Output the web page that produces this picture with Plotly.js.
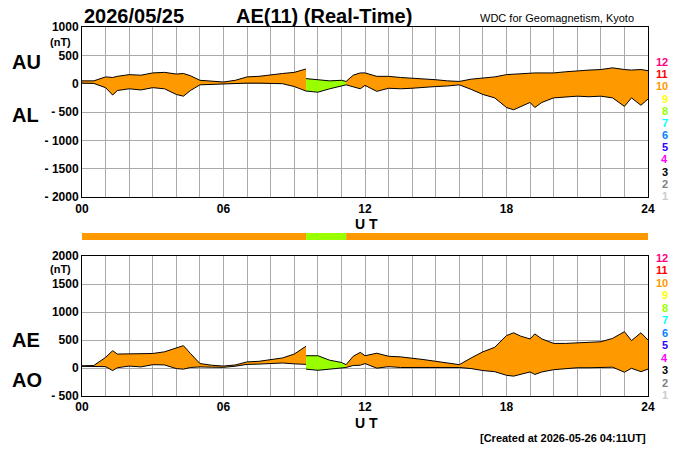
<!DOCTYPE html>
<html><head><meta charset="utf-8">
<script src="https://cdn.plot.ly/plotly-3.0.1.min.js"></script>
<style>body{margin:0;background:#fff}</style>
</head><body>
<div id="ae" style="width:700px;height:450px"></div>
<script>
// samples (UT hours, nT)
var hours = [0,0.5,1,1.3,1.5,2,2.5,3,3.5,4,4.3,4.6,5,5.5,6,6.5,7,7.5,8,8.5,9,9.5,
  9.51,10,10.5,11,11.2,11.5,11.8,12,12.5,13,13.5,14,14.5,15,15.5,16,16.5,17,17.5,
  18,18.3,18.6,19,19.2,19.5,20,20.5,21,21.5,22,22.5,23,23.3,23.7,24];
var au = [50,50,120,110,130,160,150,190,200,170,180,140,60,40,30,60,120,130,160,180,200,260,
  90,70,50,60,40,150,190,190,130,130,110,100,90,70,50,40,80,100,120,
  160,170,170,190,190,190,190,210,230,240,250,280,250,240,250,230];
var al = [10,5,-70,-200,-120,-90,-110,-70,-90,-190,-220,-120,-20,-10,-5,5,10,10,10,0,-50,-130,
  -130,-150,-90,-40,-20,-60,-90,-30,-135,-80,-90,-80,-60,-50,-40,-20,-100,-190,-250,
  -420,-460,-400,-330,-420,-330,-250,-230,-220,-230,-220,-250,-400,-250,-380,-270];
var ae = au.map(function(v, i) { return v - al[i]; });
var ao = au.map(function(v, i) { return (v + al[i]) / 2; });

// number of stations per interval
var segStart = [0, 9.5, 11.2];
var segEnd = [9.5, 11.2, 24];
var segColor = ['#ff9900', '#99ff00', '#ff9900'];

var levels = ['12','11','10','9','8','7','6','5','4','3','2','1'];
var levelColors = ['#ff0080','#ff0000','#ff9900','#ffff00','#99ff00','#00ffff','#0080ff','#3300ff','#ff00ff','#000000','#808080','#cccccc'];

var data = [];
function addBand(lo, hi, s, xa, ya) {
  var x = [], l = [], h = [];
  hours.forEach(function(t, i) {
    var inSeg = t >= segStart[s] && t <= segEnd[s];
    if (s === 1 && t === 9.5) inSeg = false;
    if (inSeg) { x.push(t); l.push(lo[i]); h.push(hi[i]); }
  });
  if (s === 1) x[0] = segStart[1];
  data.push({x: x, y: l, xaxis: xa, yaxis: ya, mode: 'lines', line: {color: '#000', width: 1}, hoverinfo: 'skip'});
  data.push({x: x, y: h, xaxis: xa, yaxis: ya, mode: 'lines', fill: 'tonexty', fillcolor: segColor[s], line: {color: '#000', width: 1}, hoverinfo: 'skip'});
}
for (var s = 0; s < segStart.length; s++) {
  addBand(al, au, s, 'x', 'y');
  addBand(ao, ae, s, 'x2', 'y2');
}
// coverage strip
data.push({type: 'bar', orientation: 'h', y: [0, 0, 0], base: segStart,
  x: segEnd.map(function(e, i) { return e - segStart[i]; }),
  marker: {color: segColor, line: {width: 0}}, width: 1, xaxis: 'x3', yaxis: 'y3', hoverinfo: 'skip'});

var hourTicks = [], hourText = [];
for (var i = 0; i <= 24; i++) { hourTicks.push(i); hourText.push(i % 6 === 0 ? (i < 10 ? '0' + i : '' + i) : ''); }

var bold = {family: 'Liberation Sans', size: 12, color: '#000', weight: 'bold'};
function xax(anchor) {
  return {anchor: anchor, range: [0, 24], tickvals: hourTicks, ticktext: hourText, showgrid: true,
    gridcolor: '#aaa', gridwidth: 1, showline: true, linecolor: '#000', mirror: true, ticks: '',
    zeroline: false, tickfont: bold, fixedrange: true};
}
function yax(domain, range, vals, txt, anchor) {
  return {domain: domain, anchor: anchor, range: range, tickvals: vals, ticktext: txt, showgrid: true,
    gridcolor: '#aaa', showline: true, linecolor: '#000', mirror: true, ticks: '', zeroline: false,
    tickfont: bold, fixedrange: true};
}

// positions given in page pixels, converted to plot-area fractions
function px(x) { return (x - 82) / 566; }
function py(y) { return (396 - y) / 369; }
var ann = [
  {text: '<b>2026/05/25</b>', x: 82, y: 16, size: 20},
  {text: '<b>AE(11) (Real-Time)</b>', x: 234, y: 16, size: 20},
  {text: 'WDC for Geomagnetism, Kyoto', x: 478, y: 18, size: 11},
  {text: '<b>AU</b>', x: 10, y: 62, size: 20},
  {text: '<b>AL</b>', x: 10, y: 115, size: 20},
  {text: '<b>AE</b>', x: 10, y: 340, size: 20},
  {text: '<b>AO</b>', x: 10, y: 380, size: 20},
  {text: '<b>(nT)</b>', x: 48, y: 42, size: 11},
  {text: '<b>(nT)</b>', x: 48, y: 269, size: 11},
  {text: '<b>U T</b>', x: 353, y: 224, size: 14},
  {text: '<b>U T</b>', x: 353, y: 423, size: 14},
  {text: '<b>[Created at 2026-05-26 04:11UT]</b>', x: 478, y: 438, size: 11}
].map(function(a) {
  return {text: a.text, x: px(a.x), y: py(a.y), xref: 'paper', yref: 'paper', xanchor: 'left',
    yanchor: 'middle', showarrow: false, font: {family: 'Liberation Sans', size: a.size, color: '#000'}};
});
[[62, 196], [258, 395]].forEach(function(p) {
  var step = (p[1] - p[0]) / 11;
  levels.forEach(function(lv, k) {
    ann.push({text: '<b>' + lv + '</b>', x: px(670), y: py(p[0] + k * step),
      xref: 'paper', yref: 'paper', xanchor: 'right', yanchor: 'middle', showarrow: false,
      font: {family: 'Liberation Sans', size: 11, color: levelColors[k]}});
  });
});

var layout = {
  width: 700, height: 450, showlegend: false,
  paper_bgcolor: '#fff', plot_bgcolor: '#fff',
  margin: {l: 82, r: 52, t: 27, b: 54},
  font: {family: 'Liberation Sans', color: '#000'},
  xaxis: xax('y'),
  yaxis: yax([0.539, 1], [-2000, 1000], [1000, 500, 0, -500, -1000, -1500, -2000],
    ['1000', '500', '0', '- 500', '- 1000', '- 1500', '- 2000'], 'x'),
  xaxis2: xax('y2'),
  yaxis2: yax([0, 0.379], [-500, 2000], [2000, 1500, 1000, 500, 0, -500],
    ['2000', '1500', '1000', '500', '0', '- 500'], 'x2'),
  xaxis3: {anchor: 'y3', range: [0, 24], visible: false, fixedrange: true},
  yaxis3: {domain: [0.423, 0.442], anchor: 'x3', range: [-0.5, 0.5], visible: false, fixedrange: true},
  annotations: ann
};
Plotly.newPlot('ae', data, layout, {displayModeBar: false, staticPlot: true});
</script>
</body></html>
